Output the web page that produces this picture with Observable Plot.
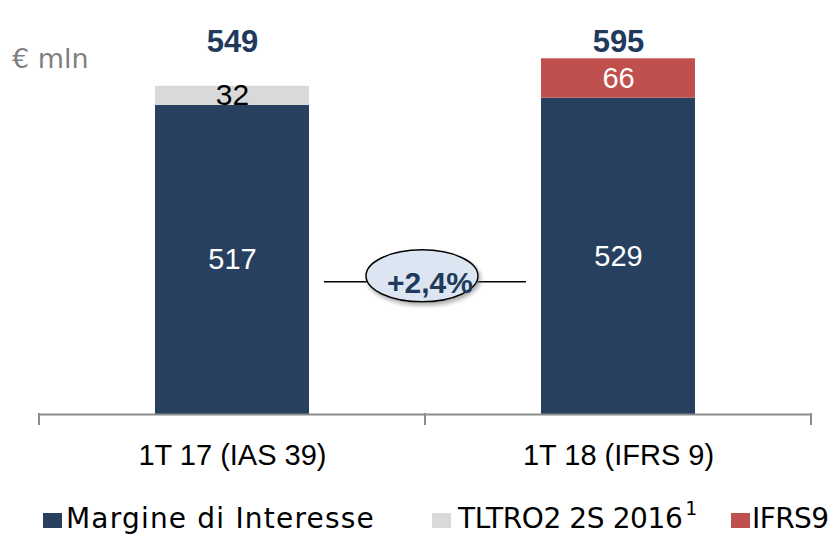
<!DOCTYPE html>
<html>
<head>
<meta charset="utf-8">
<script src="https://cdn.jsdelivr.net/npm/d3@7"></script>
<script src="https://cdn.jsdelivr.net/npm/@observablehq/plot@0.6"></script>
<style>
  body { margin: 0; background: #fff; }
  #wrap { position: relative; width: 834px; height: 535px; overflow: hidden; background: #fff; }
  #chart { position: absolute; left: 0; top: 0; }
  #unit { position: absolute; left: 12px; top: 45px; font: 27px/27px "DejaVu Sans", sans-serif; color: #7f7f7f; white-space: nowrap; }
  .lg-sw { position: absolute; top: 513px; width: 19px; height: 15px; }
  .lg-tx { position: absolute; top: 505px; font: 28px/28px "DejaVu Sans", sans-serif; color: #000; white-space: nowrap; }
  .lg-sup { position: absolute; top: 499px; font: 19px/19px "DejaVu Sans", sans-serif; color: #000; }
</style>
</head>
<body>
<div id="wrap">
  <div id="chart"></div>
  <div id="unit">€ mln</div>
  <div id="legend"></div>
</div>
<script>
// ---- data ----
const categories = ["1T 17 (IAS 39)", "1T 18 (IFRS 9)"];
const series = ["Margine di Interesse", "TLTRO2 2S 2016", "IFRS9"];
const margine = [517, 529];
const tltro = [32, 0];
const ifrs9 = [0, 66];
const totals = [549, 595];
const changeLabel = "+2,4%";
const footnote = "1";
const colors = ["#274060", "#d9d9d9", "#c0504d"];

// table for the library
const rows = [];
categories.forEach((c, i) => {
  [[series[0], margine[i]], [series[1], tltro[i]], [series[2], ifrs9[i]]].forEach(([s, v]) => {
    if (v > 0) rows.push({category: c, series: s, value: v});
  });
});

const navyText = "#213a5c";

const plot = Plot.plot({
  width: 834,
  height: 484,
  marginLeft: 39,
  marginRight: 22,
  marginTop: 20,
  marginBottom: 70,
  style: {fontFamily: "'Liberation Sans', Arial, sans-serif", fontSize: "29px", background: "white", color: "#000"},
  x: {domain: categories, paddingInner: 0.6, paddingOuter: 0.3, label: null},
  y: {domain: [0, 659], axis: null},
  color: {domain: series, range: colors},
  marks: [
    Plot.barY(rows, {x: "category", y: "value", fill: "series", z: "series"}),
    Plot.ruleY([0], {stroke: "#8c8c8c", strokeWidth: 2}),
    Plot.axisX({tickSize: 0, tickPadding: 30, fontSize: 29, label: null}),
    Plot.text(rows, Plot.stackY({x: "category", y: "value", z: "series",
      text: d => d.series === series[1] ? null : d.value, fill: "white", fontSize: 29})),
    Plot.text(rows, Plot.stackY({x: "category", y: "value", z: "series",
      text: d => d.series === series[1] ? d.value : null, fill: "black", fontSize: 30})),
    Plot.text(categories, {x: d => d, text: (d, i) => totals[i], frameAnchor: "top", dy: 9,
      fontSize: 31, fontWeight: "bold", fill: navyText})
  ]
});
document.getElementById("chart").appendChild(plot);

// ---- boundary ticks and growth annotation, positioned through the plot's scales ----
const sx = plot.scale("x"), sy = plot.scale("y");
const svg = d3.select(plot);
const bw = sx.bandwidth, step = sx.step;
const gap = (step - bw) / 2;
const y0 = sy.apply(0);
const bounds = [sx.apply(categories[0]) - gap, sx.apply(categories[0]) + bw + gap, sx.apply(categories[1]) + bw + gap];
svg.append("g").selectAll("line").data(bounds).join("line")
  .attr("x1", d => d).attr("x2", d => d)
  .attr("y1", y0 - 1).attr("y2", y0 + 11)
  .attr("stroke", "#8c8c8c").attr("stroke-width", 2);

const defs = svg.append("defs");
const f = defs.append("filter").attr("id", "shadow").attr("x", "-20%").attr("y", "-20%").attr("width", "150%").attr("height", "160%");
f.append("feDropShadow").attr("dx", 2).attr("dy", 3).attr("stdDeviation", 2).attr("flood-color", "#777").attr("flood-opacity", 0.6);

const mid = bounds[1];
const yL = sy.apply(221);
const g = svg.append("g");
g.append("line").attr("x1", mid - 101).attr("x2", mid + 101).attr("y1", yL).attr("y2", yL)
  .attr("stroke", "#000").attr("stroke-width", 1.5);
g.append("ellipse").attr("cx", mid - 3).attr("cy", yL - 6).attr("rx", 56).attr("ry", 26)
  .attr("fill", "#dce6f2").attr("stroke", "#000").attr("stroke-width", 1.5).attr("filter", "url(#shadow)");
g.append("text").attr("x", mid + 5).attr("y", yL + 11.5).attr("text-anchor", "middle")
  .attr("font-size", 30).attr("font-weight", "bold").attr("fill", navyText).text(changeLabel);

// ---- legend ----
const legend = document.getElementById("legend");
const swLeft = [43, 432, 731];
const txLeft = [66, 458, 752];
const spacing = ["1.2px", "-0.4px", "-0.6px"];
series.forEach((s, i) => {
  const sw = document.createElement("div");
  sw.className = "lg-sw"; sw.style.left = swLeft[i] + "px"; sw.style.background = colors[i];
  legend.appendChild(sw);
  const tx = document.createElement("div");
  tx.className = "lg-tx"; tx.style.left = txLeft[i] + "px"; tx.style.letterSpacing = spacing[i]; tx.textContent = s;
  legend.appendChild(tx);
  if (i === 1) {
    const sup = document.createElement("div");
    sup.className = "lg-sup";
    legend.appendChild(sup);
    sup.textContent = footnote;
    sup.style.left = (txLeft[i] + tx.getBoundingClientRect().width + 3) + "px";
  }
});
</script>
</body>
</html>
